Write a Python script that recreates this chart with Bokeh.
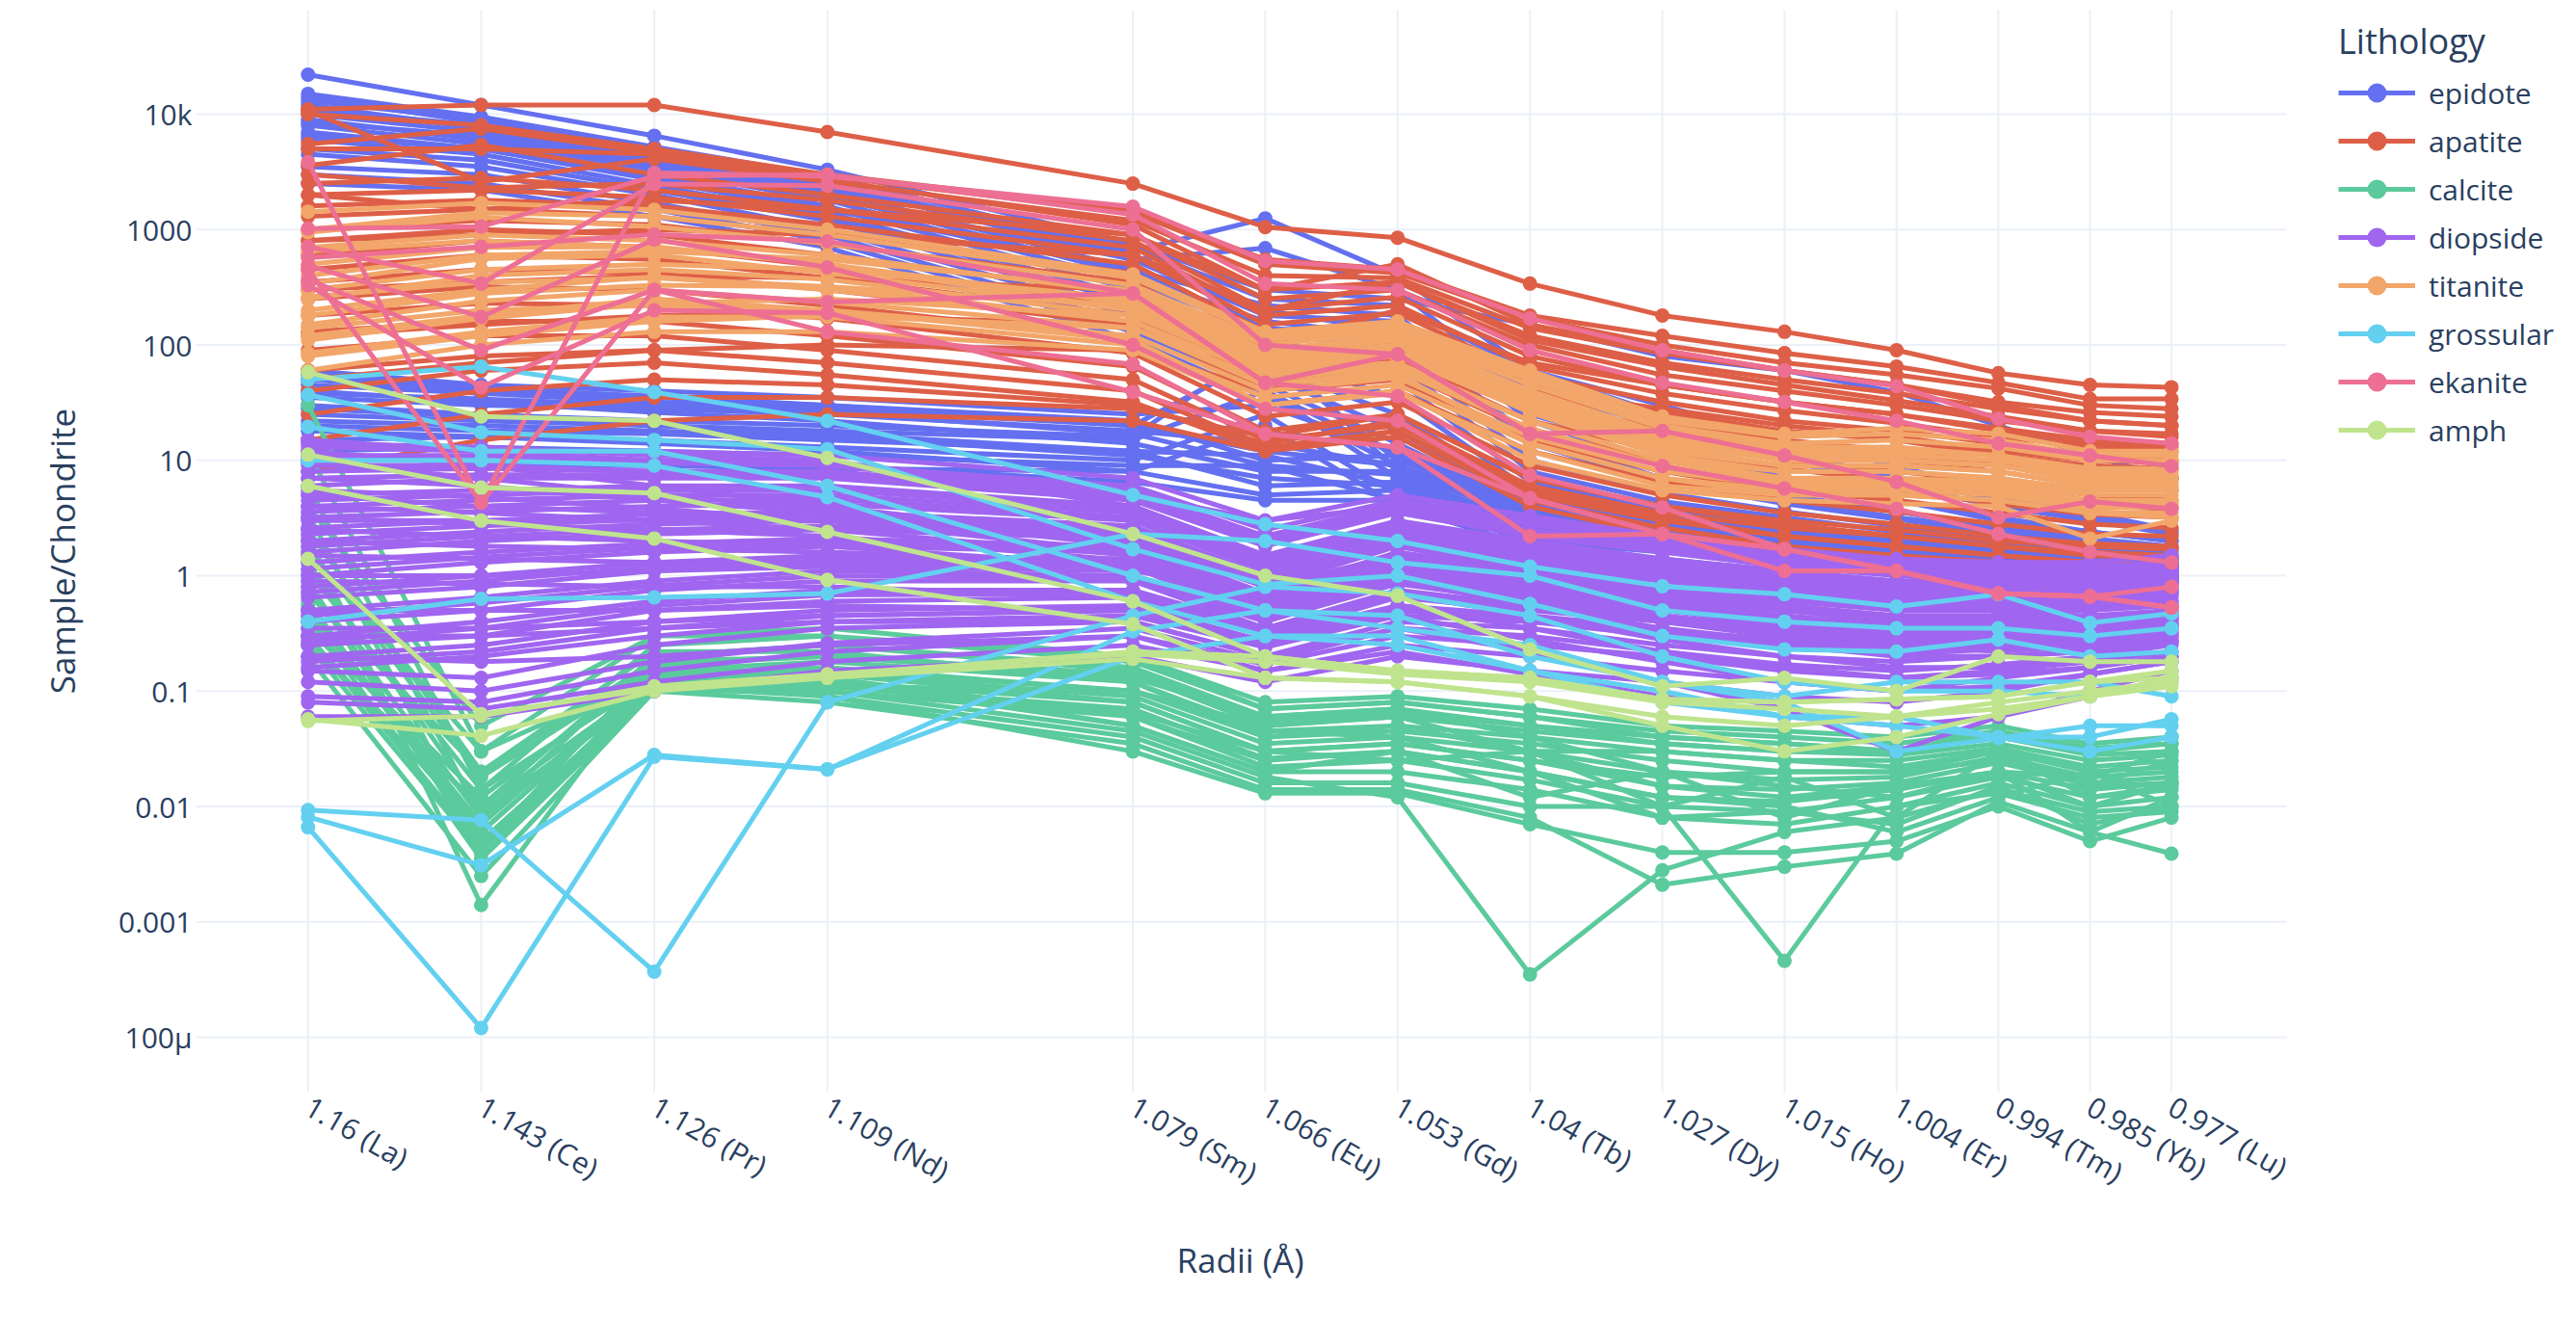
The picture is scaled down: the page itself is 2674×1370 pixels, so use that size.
import math
from bokeh.plotting import figure
from bokeh.models import FixedTicker, Range1d, Legend, LegendItem, Title
from bokeh.embed import file_html
from bokeh.resources import INLINE

# ---------------- data ----------------
RADII = [1.16, 1.143, 1.126, 1.109, 1.079, 1.066, 1.053, 1.04, 1.027, 1.015, 1.004, 0.994, 0.985, 0.977]
TICK_LABELS = ["1.16 (La)", "1.143 (Ce)", "1.126 (Pr)", "1.109 (Nd)", "1.079 (Sm)", "1.066 (Eu)",
               "1.053 (Gd)", "1.04 (Tb)", "1.027 (Dy)", "1.015 (Ho)", "1.004 (Er)", "0.994 (Tm)",
               "0.985 (Yb)", "0.977 (Lu)"]
Y_TICKS = [0.0001, 0.001, 0.01, 0.1, 1, 10, 100, 1000, 10000]
Y_LABELS = ["100µ", "0.001", "0.01", "0.1", "1", "10", "100", "1000", "10k"]

# each row: La Ce Pr Nd Sm Eu Gd Tb Dy Ho Er Tm Yb Lu (sample / chondrite)
EPIDOTE = [
    [22000, 12000, 6500, 3300, 750, 300, 250, 150, 80, 60, 39, 20, 11, 7],
    [15000, 9500, 5200, 2900, 650, 1250, 400, 60, 25, 12, 7, 4.5, 3.2, 2.4],
    [14000, 8500, 4600, 2500, 550, 690, 300, 35, 14, 7, 4.5, 3.2, 2.4, 2],
    [12000, 7500, 4000, 2200, 450, 220, 180, 22, 9, 5, 3.6, 2.6, 2.1, 1.8],
    [11000, 8000, 4200, 2300, 700, 250, 220, 60, 30, 15, 9, 5, 3.5, 2.5],
    [10000, 7000, 3800, 2000, 400, 160, 120, 14, 6.5, 4.2, 3.1, 2.3, 1.9, 1.6],
    [9000, 6000, 3300, 1800, 350, 130, 90, 10, 5.2, 3.6, 2.7, 2.1, 1.7, 1.5],
    [8500, 6500, 3500, 1900, 550, 180, 160, 40, 20, 10, 6, 4, 3, 2.3],
    [8000, 5500, 3000, 1600, 300, 110, 70, 8, 4.4, 3.2, 2.4, 1.9, 1.6, 1.4],
    [7000, 5000, 2700, 1400, 260, 90, 50, 6.5, 3.8, 2.8, 2.1, 1.7, 1.4, 1.3],
    [6500, 5000, 2800, 1500, 450, 140, 120, 25, 12, 7, 4.5, 3, 2.4, 2],
    [6000, 4500, 2400, 1300, 230, 80, 35, 5.5, 3.3, 2.5, 1.9, 1.6, 1.3, 1.2],
    [5000, 4000, 2200, 1200, 200, 65, 25, 4.8, 3, 2.2, 1.7, 1.4, 1.2, 1.1],
    [4500, 3500, 2000, 1000, 180, 55, 18, 4.2, 2.7, 2, 1.5, 1.3, 1.1, 1],
    [3500, 3000, 1700, 900, 150, 45, 14, 3.8, 2.4, 1.8, 1.4, 1.2, 1, 0.95],
    [3000, 2500, 1500, 800, 130, 40, 11, 3.4, 2.2, 1.6, 1.25, 1.1, 0.95, 0.9],
    [2500, 2200, 1300, 700, 110, 35, 9, 3, 2, 1.5, 1.15, 1, 0.9, 0.9],
    [13000, 9000, 5000, 2600, 600, 200, 130, 16, 7, 4.5, 3.2, 2.5, 2, 1.7],
    [60, 45, 40, 35, 25, 30, 12, 5, 3.5, 2.5, 2, 1.7, 1.5, 1.4],
    [45, 38, 32, 28, 20, 80, 10, 4.2, 3, 2.2, 1.8, 1.5, 1.4, 1.3],
    [35, 30, 28, 25, 18, 14, 9, 3.6, 2.6, 2, 1.6, 1.4, 1.3, 1.2],
    [25, 22, 20, 18, 15, 40, 7, 3, 2.2, 1.8, 1.5, 1.3, 1.2, 1.1],
    [20, 18, 17, 15, 12, 11, 6, 2.6, 2, 1.6, 1.4, 1.2, 1.1, 1],
    [15, 16, 15, 13, 10, 25, 5, 2.3, 1.8, 1.5, 1.3, 1.1, 1, 0.95],
    [30, 25, 22, 20, 16, 100, 8, 3.3, 2.4, 1.9, 1.6, 1.4, 1.25, 1.15],
    [12, 13, 12, 11, 9, 9, 4.5, 2, 1.6, 1.3, 1.1, 0.95, 0.9, 0.9],
    [50, 40, 35, 30, 22, 10, 11, 4.5, 3.2, 2.3, 1.9, 1.6, 1.4, 1.25],
    [8, 9, 9, 8.5, 8, 20, 4, 1.8, 1.4, 1.1, 0.8, 0.7, 0.75, 0.9],
    [18, 16, 14, 12, 8, 5, 5.5, 2.6, 2, 1.6, 1.3, 1.2, 1.1, 1.05],
    [10, 10, 9.5, 9, 6.5, 4.5, 4.5, 2.2, 1.7, 1.4, 1.2, 1.05, 1, 0.95],
    [28, 24, 20, 17, 12, 6, 6.5, 3, 2.2, 1.7, 1.4, 1.25, 1.15, 1.1],
    [40, 32, 26, 22, 14, 8, 8, 3.8, 2.8, 2.1, 1.7, 1.5, 1.35, 1.25],
    [55, 42, 36, 30, 20, 12, 9, 4, 3, 2.2, 1.8, 1.6, 1.45, 1.3],
    [38, 34, 30, 26, 17, 9, 7.5, 3.4, 2.5, 1.9, 1.6, 1.4, 1.25, 1.15],
    [22, 20, 18, 16, 11, 7, 6, 2.8, 2.1, 1.7, 1.4, 1.25, 1.1, 1.0],
]

APATITE = [
    [11000, 12000, 12000, 7000, 2500, 1050, 850, 340, 180, 130, 90, 57, 45, 43],
    [10000, 8000, 5000, 3000, 1500, 550, 450, 180, 120, 85, 65, 47, 34, 34],
    [5500, 7500, 4600, 2900, 1400, 500, 420, 170, 100, 70, 55, 42, 30, 28],
    [10700, 2600, 4100, 2600, 1200, 400, 380, 140, 85, 60, 45, 32, 26, 24],
    [5000, 5000, 4500, 2700, 1100, 300, 350, 120, 70, 50, 38, 28, 22, 20],
    [3600, 5400, 3000, 2000, 900, 250, 300, 100, 55, 40, 30, 22, 18, 17],
    [3000, 2300, 2500, 1800, 800, 200, 260, 80, 45, 32, 25, 19, 15, 14],
    [2500, 2800, 2200, 1500, 700, 180, 220, 65, 38, 27, 21, 16, 13, 12],
    [2000, 2200, 1900, 1300, 600, 150, 190, 55, 32, 22, 18, 14, 11, 10],
    [1600, 1800, 1600, 1100, 500, 130, 160, 45, 26, 18, 15, 11, 9, 8.5],
    [1300, 1500, 1300, 900, 420, 110, 130, 38, 22, 15, 12, 9.5, 7.5, 7],
    [1000, 1200, 1100, 750, 350, 90, 110, 32, 18, 12, 10, 8, 6, 5.5],
    [800, 1000, 900, 600, 280, 75, 90, 26, 15, 10, 8, 6.5, 5, 4.5],
    [600, 800, 700, 480, 220, 60, 75, 22, 12, 8.5, 6.5, 5, 4, 3.8],
    [450, 600, 550, 380, 180, 50, 60, 18, 10, 7, 5.5, 4.2, 3.4, 3.2],
    [350, 450, 420, 300, 150, 40, 50, 15, 8, 5.5, 4.5, 3.5, 2.8, 2.6],
    [250, 320, 300, 220, 110, 30, 40, 12, 6.5, 4.5, 3.6, 2.8, 2.3, 2.2],
    [180, 230, 220, 170, 85, 24, 32, 9, 5, 3.5, 2.8, 2.2, 1.9, 1.8],
    [130, 160, 160, 120, 65, 18, 25, 7, 4, 2.8, 2.2, 1.8, 1.5, 1.4],
    [90, 120, 120, 90, 50, 15, 20, 5.5, 3.2, 2.2, 1.8, 1.5, 1.3, 1.2],
    [60, 80, 90, 70, 40, 13, 18, 4.5, 2.6, 1.8, 1.5, 1.3, 1.1, 1.0],
    [40, 60, 70, 55, 32, 12, 16, 4, 2.2, 1.6, 1.3, 1.1, 1.0, 0.9],
    [25, 40, 50, 45, 30, 14, 22, 6, 3.5, 2.6, 2.2, 1.8, 1.6, 1.5],
    [15, 25, 35, 35, 28, 16, 25, 7, 4, 3, 2.5, 2, 1.8, 1.7],
    [8, 15, 22, 25, 22, 12, 18, 5, 3, 2.2, 1.8, 1.5, 1.3, 1.2],
    [2000, 1500, 1800, 1500, 900, 300, 500, 150, 90, 60, 45, 30, 22, 20],
    [800, 900, 1000, 900, 600, 200, 350, 110, 65, 45, 33, 24, 18, 16],
    [300, 350, 400, 380, 300, 100, 200, 70, 45, 32, 25, 18, 14, 13],
    [120, 150, 180, 180, 150, 60, 110, 40, 28, 20, 16, 12, 10, 9.5],
    [50, 70, 90, 100, 90, 40, 70, 28, 20, 14, 11, 9, 7.5, 7],
]

CALCITE = [
    [30, 0.03, 0.3, 0.35, 0.2, 0.08, 0.09, 0.07, 0.05, 0.045, 0.04, 0.05, 0.035, 0.04],
    [12, 0.014, 0.25, 0.3, 0.18, 0.07, 0.08, 0.06, 0.045, 0.04, 0.035, 0.045, 0.03, 0.035],
    [6, 0.008, 0.2, 0.25, 0.16, 0.06, 0.07, 0.05, 0.04, 0.035, 0.03, 0.04, 0.028, 0.03],
    [3.5, 0.0043, 0.17, 0.2, 0.14, 0.05, 0.06, 0.045, 0.035, 0.03, 0.028, 0.035, 0.025, 0.028],
    [2.2, 0.0014, 0.15, 0.18, 0.12, 0.045, 0.05, 0.04, 0.03, 0.025, 0.025, 0.032, 0.022, 0.025],
    [1.6, 0.03, 0.14, 0.16, 0.1, 0.04, 0.045, 0.035, 0.025, 0.02, 0.02, 0.03, 0.02, 0.022],
    [1.1, 0.014, 0.13, 0.14, 0.09, 0.035, 0.04, 0.03, 0.02, 0.017, 0.018, 0.027, 0.018, 0.02],
    [0.8, 0.008, 0.12, 0.12, 0.08, 0.03, 0.035, 0.025, 0.015, 0.014, 0.016, 0.024, 0.016, 0.018],
    [0.6, 0.005, 0.11, 0.11, 0.07, 0.026, 0.03, 0.02, 0.012, 0.011, 0.014, 0.02, 0.014, 0.016],
    [0.45, 0.0035, 0.1, 0.1, 0.06, 0.022, 0.025, 0.017, 0.01, 0.009, 0.012, 0.018, 0.012, 0.014],
    [0.35, 0.012, 0.16, 0.13, 0.05, 0.02, 0.02, 0.014, 0.008, 0.007, 0.01, 0.016, 0.01, 0.012],
    [0.3, 0.006, 0.13, 0.1, 0.045, 0.018, 0.012, 0.00035, 0.0028, 0.006, 0.008, 0.014, 0.009, 0.01],
    [0.25, 0.004, 0.11, 0.09, 0.04, 0.016, 0.016, 0.01, 0.01, 0.00046, 0.01, 0.013, 0.008, 0.009],
    [0.2, 0.0025, 0.1, 0.08, 0.035, 0.014, 0.014, 0.008, 0.0021, 0.003, 0.0039, 0.011, 0.006, 0.0039],
    [0.25, 0.01, 0.12, 0.09, 0.03, 0.013, 0.013, 0.007, 0.004, 0.004, 0.005, 0.01, 0.005, 0.008],
    [0.5, 0.007, 0.14, 0.15, 0.1, 0.05, 0.06, 0.03, 0.03, 0.025, 0.022, 0.03, 0.012, 0.015],
    [0.7, 0.02, 0.18, 0.2, 0.13, 0.06, 0.07, 0.04, 0.02, 0.015, 0.012, 0.02, 0.018, 0.03],
    [1.3, 0.01, 0.2, 0.25, 0.15, 0.055, 0.065, 0.05, 0.035, 0.03, 0.03, 0.04, 0.03, 0.04],
    [2.5, 0.02, 0.22, 0.22, 0.12, 0.04, 0.05, 0.03, 0.015, 0.012, 0.015, 0.02, 0.01, 0.016],
    [0.9, 0.004, 0.12, 0.13, 0.06, 0.025, 0.03, 0.02, 0.008, 0.009, 0.007, 0.015, 0.007, 0.01],
    [0.4, 0.009, 0.1, 0.11, 0.065, 0.03, 0.035, 0.025, 0.018, 0.02, 0.02, 0.025, 0.015, 0.016],
    [4, 0.05, 0.3, 0.3, 0.2, 0.07, 0.08, 0.06, 0.04, 0.035, 0.03, 0.045, 0.032, 0.035],
    [0.55, 0.006, 0.13, 0.12, 0.05, 0.02, 0.03, 0.012, 0.02, 0.008, 0.015, 0.02, 0.006, 0.012],
    [1.8, 0.018, 0.16, 0.14, 0.08, 0.03, 0.025, 0.03, 0.01, 0.018, 0.008, 0.03, 0.015, 0.025],
    [0.3, 0.0045, 0.12, 0.11, 0.1, 0.045, 0.04, 0.02, 0.012, 0.01, 0.006, 0.012, 0.02, 0.01],
]

DIOPSIDE = [
    [15, 12, 10, 9, 5, 2, 4, 3, 2, 1.6, 1.3, 1.2, 1.1, 1.2],
    [10, 10, 9.5, 9, 6, 2.5, 4.5, 3, 2, 1.5, 1.2, 1.1, 1, 1.1],
    [8, 8.5, 8, 7.5, 5, 2, 4, 2.5, 1.8, 1.4, 1.1, 1, 1, 1],
    [6, 7, 7, 7, 4.5, 1.8, 3.5, 2.2, 1.6, 1.2, 1, 0.9, 0.9, 0.95],
    [5, 5.5, 6, 6, 4, 1.5, 3, 2, 1.4, 1.1, 0.9, 0.85, 0.85, 0.9],
    [4, 4.5, 5, 5, 3.5, 1.3, 2.7, 1.8, 1.3, 1, 0.85, 0.8, 0.8, 0.85],
    [3.2, 3.6, 4, 4.2, 3, 1.1, 2.4, 1.6, 1.2, 0.9, 0.8, 0.75, 0.75, 0.8],
    [2.6, 3, 3.4, 3.6, 2.7, 1, 2.2, 1.5, 1.1, 0.85, 0.75, 0.7, 0.7, 0.75],
    [2, 2.4, 2.8, 3, 2.4, 0.9, 2, 1.3, 1, 0.8, 0.7, 0.65, 0.65, 0.7],
    [1.6, 2, 2.3, 2.5, 2.1, 0.8, 1.8, 1.2, 0.9, 0.7, 0.6, 0.6, 0.6, 0.65],
    [1.3, 1.6, 1.9, 2.1, 1.8, 0.7, 1.6, 1.1, 0.8, 0.65, 0.55, 0.55, 0.55, 0.6],
    [1, 1.3, 1.6, 1.8, 1.6, 0.6, 1.4, 1, 0.75, 0.6, 0.5, 0.5, 0.5, 0.55],
    [0.8, 1, 1.3, 1.5, 1.4, 0.55, 1.2, 0.9, 0.7, 0.55, 0.45, 0.45, 0.45, 0.5],
    [0.65, 0.8, 1.1, 1.3, 1.2, 0.5, 1.1, 0.8, 0.6, 0.5, 0.4, 0.4, 0.42, 0.47],
    [0.5, 0.65, 0.9, 1.1, 1, 0.45, 0.95, 0.7, 0.55, 0.45, 0.37, 0.37, 0.4, 0.45],
    [0.4, 0.5, 0.75, 0.9, 0.9, 0.4, 0.85, 0.6, 0.5, 0.4, 0.33, 0.34, 0.37, 0.42],
    [0.3, 0.4, 0.6, 0.75, 0.75, 0.35, 0.75, 0.55, 0.45, 0.35, 0.3, 0.31, 0.34, 0.4],
    [0.25, 0.3, 0.5, 0.6, 0.65, 0.3, 0.65, 0.5, 0.4, 0.3, 0.27, 0.28, 0.31, 0.37],
    [0.2, 0.25, 0.4, 0.5, 0.55, 0.27, 0.55, 0.45, 0.35, 0.27, 0.24, 0.26, 0.29, 0.34],
    [0.16, 0.2, 0.3, 0.4, 0.45, 0.24, 0.45, 0.4, 0.3, 0.24, 0.21, 0.23, 0.26, 0.3],
    [0.15, 0.13, 0.25, 0.35, 0.4, 0.2, 0.4, 0.35, 0.25, 0.2, 0.18, 0.2, 0.23, 0.27],
    [0.09, 0.08, 0.15, 0.22, 0.3, 0.17, 0.3, 0.25, 0.2, 0.15, 0.13, 0.15, 0.18, 0.22],
    [0.08, 0.07, 0.12, 0.18, 0.25, 0.15, 0.25, 0.2, 0.15, 0.12, 0.1, 0.13, 0.16, 0.2],
    [0.06, 0.06, 0.1, 0.15, 0.2, 0.12, 0.2, 0.15, 0.12, 0.09, 0.08, 0.1, 0.14, 0.18],
    [12, 9, 6, 4, 2, 0.8, 1.5, 1, 0.7, 0.5, 0.4, 0.4, 0.4, 0.45],
    [7, 6, 4.5, 3.5, 1.8, 0.6, 1.3, 0.8, 0.55, 0.4, 0.32, 0.32, 0.33, 0.38],
    [4, 3.5, 3, 2.5, 1.5, 0.5, 1.1, 0.7, 0.45, 0.33, 0.27, 0.27, 0.28, 0.32],
    [2.5, 2.2, 2, 1.8, 1.2, 0.4, 0.9, 0.55, 0.35, 0.25, 0.2, 0.2, 0.22, 0.26],
    [1.5, 1.4, 1.3, 1.2, 0.9, 0.35, 0.7, 0.45, 0.28, 0.2, 0.16, 0.16, 0.18, 0.22],
    [0.9, 0.85, 0.8, 0.8, 0.65, 0.3, 0.55, 0.35, 0.22, 0.16, 0.13, 0.14, 0.16, 0.2],
    [0.5, 0.5, 0.5, 0.55, 0.5, 0.25, 0.45, 0.28, 0.18, 0.12, 0.1, 0.11, 0.14, 0.18],
    [0.3, 0.3, 0.35, 0.4, 0.4, 0.2, 0.35, 0.22, 0.12, 0.07, 0.03, 0.06, 0.1, 0.15],
    [9, 9, 8, 8, 5, 3, 4, 2.5, 1.8, 1.5, 1.3, 1.3, 1.3, 1.5],
    [3, 3, 3, 3, 2.5, 1.5, 2.2, 1.5, 1.2, 1, 0.9, 0.9, 0.95, 1.1],
    [1, 1, 1.1, 1.2, 1.1, 0.7, 1, 0.75, 0.6, 0.5, 0.45, 0.45, 0.5, 0.6],
    [0.35, 0.35, 0.4, 0.45, 0.5, 0.35, 0.5, 0.4, 0.33, 0.28, 0.25, 0.27, 0.3, 0.36],
    [14, 13, 11, 10, 4, 1.5, 2.5, 1.2, 0.9, 0.7, 0.6, 0.6, 0.65, 0.75],
    [5, 4, 3.5, 3, 2.2, 1, 1.8, 1.1, 0.7, 0.35, 0.25, 0.22, 0.25, 0.3],
    [0.2, 0.18, 0.2, 0.25, 0.3, 0.15, 0.22, 0.14, 0.09, 0.06, 0.05, 0.06, 0.09, 0.13],
    [2, 1.8, 1.7, 1.6, 1.3, 0.5, 1, 0.65, 0.45, 0.3, 0.2, 0.2, 0.22, 0.27],
    [11, 11, 10, 9.5, 5.5, 2.2, 4.2, 2.8, 1.9, 1.5, 1.25, 1.15, 1.05, 1.15],
    [7, 7.5, 7.5, 7.2, 4.8, 1.9, 3.8, 2.4, 1.7, 1.3, 1.05, 0.95, 0.95, 1],
    [4.5, 5, 5.5, 5.5, 3.8, 1.4, 2.9, 1.9, 1.35, 1.05, 0.87, 0.82, 0.82, 0.88],
    [3.6, 4, 4.5, 4.6, 3.2, 1.2, 2.5, 1.7, 1.25, 0.95, 0.82, 0.78, 0.78, 0.82],
    [2.3, 2.7, 3.1, 3.3, 2.5, 0.95, 2.1, 1.4, 1.05, 0.82, 0.72, 0.68, 0.68, 0.72],
    [1.8, 2.2, 2.5, 2.7, 2.2, 0.85, 1.9, 1.25, 0.95, 0.75, 0.65, 0.62, 0.62, 0.68],
    [1.15, 1.45, 1.75, 1.95, 1.7, 0.65, 1.5, 1.05, 0.78, 0.62, 0.52, 0.52, 0.52, 0.57],
    [0.72, 0.9, 1.2, 1.4, 1.3, 0.52, 1.15, 0.85, 0.65, 0.52, 0.42, 0.42, 0.44, 0.48],
    [0.45, 0.58, 0.82, 1.0, 0.95, 0.42, 0.9, 0.65, 0.52, 0.42, 0.35, 0.35, 0.38, 0.43],
    [0.27, 0.35, 0.55, 0.68, 0.7, 0.32, 0.7, 0.52, 0.42, 0.32, 0.28, 0.3, 0.32, 0.38],
    [0.18, 0.22, 0.35, 0.45, 0.5, 0.25, 0.5, 0.42, 0.32, 0.25, 0.22, 0.24, 0.27, 0.32],
    [9.5, 7, 5, 3.8, 1.9, 0.7, 1.4, 0.9, 0.6, 0.45, 0.36, 0.36, 0.37, 0.42],
    [5.5, 4.8, 3.8, 3, 1.6, 0.55, 1.2, 0.75, 0.5, 0.37, 0.3, 0.3, 0.3, 0.35],
    [3.2, 2.8, 2.5, 2.2, 1.35, 0.45, 1.0, 0.62, 0.4, 0.29, 0.23, 0.23, 0.25, 0.29],
    [13, 12, 12, 11, 7, 3, 5, 3.3, 2.2, 1.7, 1.4, 1.3, 1.2, 1.3],
    [0.12, 0.1, 0.18, 0.26, 0.35, 0.18, 0.35, 0.3, 0.22, 0.17, 0.15, 0.17, 0.2, 0.25],
]

TITANITE = [
    [1430, 1700, 1480, 1000, 410, 130, 160, 60, 24, 17, 19, 17, 12, 12],
    [950, 1280, 1060, 760, 330, 110, 140, 50, 20, 14, 15, 13, 10, 10],
    [700, 900, 800, 600, 280, 90, 120, 40, 17, 12, 12, 11, 8.5, 8.5],
    [500, 700, 710, 500, 230, 80, 100, 35, 15, 10, 10, 9, 7, 7],
    [340, 560, 600, 420, 200, 70, 90, 30, 13, 9, 9, 8, 6, 6],
    [250, 400, 450, 370, 180, 60, 80, 26, 11, 8, 8, 7, 5.5, 5.5],
    [200, 300, 390, 300, 160, 55, 70, 22, 10, 7, 7, 6.5, 5, 5],
    [150, 240, 300, 235, 140, 45, 60, 19, 9, 6.5, 6.5, 6, 4.5, 4.5],
    [120, 180, 250, 200, 120, 40, 52, 16, 8, 6, 6, 5.5, 4.2, 4.2],
    [85, 130, 175, 175, 100, 35, 45, 14, 7, 5.5, 5.5, 5, 3.8, 4],
    [60, 100, 130, 130, 90, 30, 38, 12, 6, 5, 5, 4.5, 3.5, 3.5],
    [1000, 1400, 1300, 900, 380, 120, 150, 55, 22, 16, 17, 15, 11, 11],
    [400, 600, 650, 550, 300, 100, 130, 45, 19, 13, 13, 11, 8, 8],
    [300, 450, 500, 450, 250, 85, 110, 38, 16, 11, 11, 10, 7.5, 7.5],
    [180, 280, 330, 320, 220, 75, 95, 32, 14, 10, 10, 9, 6.5, 6.5],
    [110, 170, 230, 250, 180, 65, 85, 28, 12, 9, 9, 8, 6, 6],
    [80, 120, 160, 180, 140, 50, 65, 22, 10, 8, 8, 7, 5.5, 5.5],
    [650, 800, 700, 500, 200, 60, 70, 18, 9, 6, 6, 5.5, 4, 4],
    [260, 350, 380, 320, 160, 45, 55, 14, 7, 5, 5, 4.5, 3.5, 3.2],
    [140, 200, 220, 200, 110, 30, 40, 10, 5.5, 4.5, 4.2, 4, 2.1, 3],
]

GROSSULAR = [
    [50, 65, 39, 22, 5, 2.8, 2, 1.2, 0.81, 0.69, 0.54, 0.69, 0.39, 0.47],
    [37, 17.5, 15, 12.5, 1.7, 0.84, 1.0, 0.57, 0.3, 0.23, 0.22, 0.28, 0.2, 0.22],
    [19.5, 12, 12, 6, 1.0, 0.5, 0.45, 0.2, 0.12, 0.09, 0.12, 0.12, 0.12, 0.09],
    [10, 10, 9, 4.8, 0.6, 0.3, 0.3, 0.15, 0.1, 0.06, 0.06, 0.04, 0.04, 0.057],
    [0.4, 0.63, 0.65, 0.7, 2.3, 2.0, 1.3, 1.0, 0.5, 0.4, 0.35, 0.35, 0.3, 0.35],
    [0.0093, 0.0076, 0.00037, 0.08, 0.45, 0.8, 0.7, 0.45, 0.2, 0.12, 0.1, 0.1, 0.09, 0.12],
    [0.0066, 0.00012, 0.027, 0.021, 0.33, 0.5, 0.35, 0.25, 0.12, 0.08, 0.03, 0.039, 0.05, 0.05],
    [0.0081, 0.0031, 0.028, 0.021, 0.2, 0.3, 0.25, 0.15, 0.08, 0.06, 0.05, 0.04, 0.03, 0.04],
]

EKANITE = [
    [3850, 4.3, 3100, 2900, 1580, 535, 450, 170, 90, 60, 44, 23, 16, 14],
    [1020, 1060, 2900, 3000, 1350, 340, 300, 90, 47, 32, 22, 14, 11, 8.9],
    [710, 340, 2480, 2400, 1000, 100, 83, 17, 8.9, 5.7, 3.8, 2.3, 1.6, 1.3],
    [570, 710, 910, 790, 280, 47, 36, 7.4, 3.9, 1.7, 1.1, 0.7, 0.66, 0.53],
    [490, 175, 820, 470, 100, 28, 22, 4.7, 2.3, 1.1, 1.1, 0.7, 0.66, 0.8],
    [370, 90, 300, 235, 280, 47, 83, 17, 18, 11, 6.5, 3.2, 4.4, 3.8],
    [330, 43, 200, 190, 39, 17, 13, 4.7, 2.3, 1.7, 1.1, 0.7, 0.66, 0.53],
    [450, 4.3, 300, 130, 68, 17, 13, 2.2, 2.3, 1.7, 1.1, 0.7, 0.66, 0.53],
]

AMPH = [
    [58, 24, 22, 10.5, 2.3, 1.0, 0.67, 0.23, 0.11, 0.13, 0.1, 0.2, 0.18, 0.18],
    [11.2, 5.8, 5.2, 2.4, 0.6, 0.2, 0.15, 0.13, 0.085, 0.08, 0.085, 0.09, 0.12, 0.13],
    [6, 3.0, 2.1, 0.92, 0.38, 0.13, 0.12, 0.09, 0.05, 0.03, 0.04, 0.063, 0.09, 0.13],
    [1.4, 0.063, 0.105, 0.137, 0.22, 0.2, 0.15, 0.13, 0.085, 0.08, 0.085, 0.09, 0.12, 0.15],
    [0.055, 0.061, 0.11, 0.14, 0.21, 0.18, 0.14, 0.12, 0.08, 0.07, 0.06, 0.08, 0.1, 0.12],
    [0.057, 0.041, 0.1, 0.13, 0.19, 0.13, 0.12, 0.09, 0.06, 0.05, 0.06, 0.07, 0.09, 0.11],
]

GROUP_NAMES = ["epidote", "apatite", "calcite", "diopside", "titanite", "grossular", "ekanite", "amph"]
GROUP_DATA = [EPIDOTE, APATITE, CALCITE, DIOPSIDE, TITANITE, GROSSULAR, EKANITE, AMPH]
GROUP_COLORS = ["#6470F0", "#DE5F47", "#5BCA9C", "#A066F0", "#F2A66A", "#63D0F0", "#ED6F94", "#C0E48E"]

# ---------------- figure ----------------
FONT = "Open Sans"
TEXT = "#2a3f5f"
GRID = "#EBF0F8"

X_LEFT, X_DATA_RIGHT, X_FRAME_RIGHT = 1.171, 0.9657, 0.93874   # frame continues under the legend
Y_LOW, Y_HIGH = 10 ** -4.476, 10 ** 4.902

p = figure(width=2658, height=1354, output_backend="svg", toolbar_location=None,
           y_axis_type="log",
           x_range=Range1d(X_LEFT, X_FRAME_RIGHT),
           y_range=Range1d(Y_LOW, Y_HIGH),
           min_border_left=203, min_border_right=0, min_border_top=10, min_border_bottom=221)
p.background_fill_color = "white"
p.border_fill_color = "white"
p.outline_line_color = None
p.xgrid.grid_line_color = None
p.ygrid.grid_line_color = None

# grid lines restricted to the plotting area (left of the legend)
p.segment(x0=[X_LEFT] * len(Y_TICKS), x1=[X_DATA_RIGHT] * len(Y_TICKS), y0=Y_TICKS, y1=Y_TICKS,
          line_color=GRID, line_width=2)
p.segment(x0=RADII, x1=RADII, y0=[Y_LOW] * len(RADII), y1=[Y_HIGH] * len(RADII),
          line_color=GRID, line_width=2)

items = []
for name, data, color in zip(GROUP_NAMES, GROUP_DATA, GROUP_COLORS):
    xs = [list(RADII) for _ in data]
    ml = p.multi_line(xs=xs, ys=data, line_color=color, line_width=5)
    fx = [x for row in data for x in RADII]
    fy = [v for row in data for v in row]
    sc = p.scatter(x=fx, y=fy, size=15, marker="circle", fill_color=color, line_color=None)
    items.append(LegendItem(label=name, renderers=[ml, sc]))

xa = p.xaxis[0]
ya = p.yaxis[0]
xa.ticker = FixedTicker(ticks=RADII, minor_ticks=[])
xa.major_label_overrides = {r: l for r, l in zip(RADII, TICK_LABELS)}
xa.major_label_orientation = -math.pi / 6
xa.major_label_standoff = 12

ya.ticker = FixedTicker(ticks=Y_TICKS, minor_ticks=[])
ya.major_label_overrides = {t: l for t, l in zip(Y_TICKS, Y_LABELS)}
ya.axis_label = "Sample/Chondrite"
ya.major_label_standoff = 4
ya.axis_label_standoff = 32

for ax in (xa, ya):
    ax.axis_line_color = None
    ax.major_tick_line_color = None
    ax.minor_tick_line_color = None
    ax.major_tick_out = 0
    ax.major_tick_in = 0
    ax.minor_tick_out = 0
    ax.minor_tick_in = 0
    ax.major_label_text_font = FONT
    ax.major_label_text_font_size = "30px"
    ax.major_label_text_color = TEXT
    ax.axis_label_text_font = FONT
    ax.axis_label_text_font_size = "35px"
    ax.axis_label_text_font_style = "normal"
    ax.axis_label_text_color = TEXT

# x-axis title, centred under the plotting area (frame extends further right under the legend)
xtitle = Title(text="Radii (Å)", align="left", offset=1018, standoff=48,
               text_font=FONT, text_font_size="35px", text_font_style="normal", text_color=TEXT)
p.add_layout(xtitle, "below")

legend = Legend(items=items, location=(2224, 662), title="Lithology",
                title_text_font=FONT, title_text_font_size="36px", title_text_font_style="normal",
                title_text_color=TEXT, title_standoff=4,
                label_text_font=FONT, label_text_font_size="30px", label_text_color=TEXT,
                glyph_width=80, glyph_height=50, label_height=50, spacing=0, label_standoff=14,
                padding=10, margin=0, border_line_color=None, background_fill_alpha=0)
p.add_layout(legend)

open("out.html", "w").write(file_html(p, INLINE))
